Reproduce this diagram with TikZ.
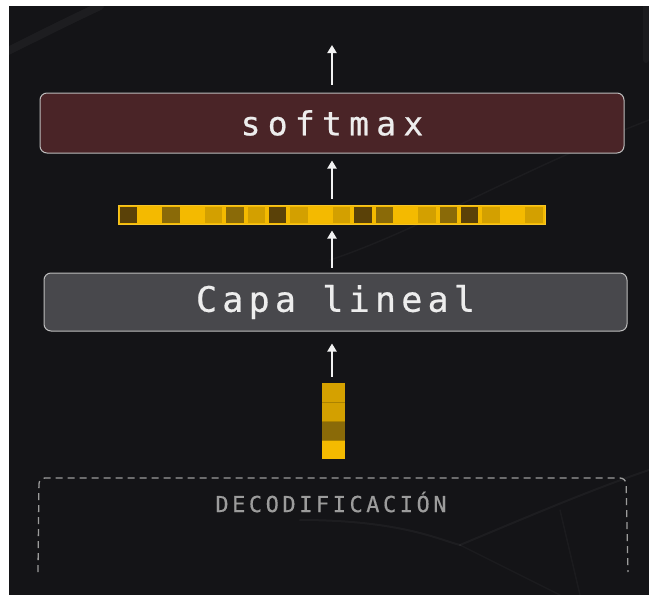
\documentclass[tikz,border=0pt]{standalone}
\usepackage{fontspec}
\usetikzlibrary{arrows.meta}
\newfontfamily\softfont{DejaVu Sans Mono}[LetterSpace=22, FakeBold=0.6]
\newfontfamily\capafont{DejaVu Sans Mono}[LetterSpace=15, FakeBold=0.6]
\newfontfamily\monolabel{DejaVu Sans Mono}[LetterSpace=16, FakeBold=0.4]
\definecolor{bgdark}{HTML}{141417}
\definecolor{softfill}{HTML}{4A2427}
\definecolor{capafill}{HTML}{48484C}
\definecolor{boxedge}{HTML}{BDBDBD}
\definecolor{gold}{HTML}{F4BA00}
\definecolor{goldmid}{HTML}{D3A000}
\definecolor{goldbrown}{HTML}{8A6A08}
\definecolor{golddark}{HTML}{5A4108}
\definecolor{labelgray}{HTML}{9C9C9C}
\tikzset{
  layerbox/.style={draw=boxedge, line width=1pt, rounded corners=7pt,
    minimum height=#1, inner sep=0pt, text=white!93!black},
  arr/.style={draw=white!95!black, line width=2.6pt,
    -{Triangle[width=9pt,length=8pt]}},
  streak/.style={white, line cap=round},
}
\begin{document}
\begin{tikzpicture}[x=1pt,y=-1pt]
  \useasboundingbox (0,0) rectangle (649,595);
  \fill[white] (0,0) rectangle (649,595);
  \fill[bgdark] (9,6) rectangle (649,595);

  % faint light streaks in the background
  \begin{scope}
    \clip (9,6) rectangle (649,595);
    \draw[streak, opacity=0.04, line width=8pt] (0,55) .. controls (40,35) and (70,20) .. (100,6);
    \draw[streak, opacity=0.03, line width=6pt] (646,6) -- (646,60);
    \draw[streak, opacity=0.035, line width=1.5pt] (330,260) .. controls (420,230) and (520,170) .. (649,120);
    \draw[streak, opacity=0.04, line width=2pt] (300,520) .. controls (400,520) and (440,540) .. (460,545);
    \draw[streak, opacity=0.04, line width=2pt] (460,545) .. controls (520,520) and (590,490) .. (649,470);
    \draw[streak, opacity=0.03, line width=1.5pt] (460,545) -- (560,595);
    \draw[streak, opacity=0.03, line width=1.5pt] (560,510) -- (580,595);
  \end{scope}

  % axis of the data flow
  \coordinate (ax) at (332,0);

  % output softmax layer
  \node[layerbox=60pt, fill=softfill, minimum width=584pt] (soft) at (332,123)
    {\fontsize{33}{40}\softfont softmax};
  \coordinate (out) at (332,45);

  % logits vector
  \node[draw=gold!85!white, line width=1pt, fill=gold, minimum width=427pt,
        minimum height=19pt, inner sep=0pt] (bar) at (331.5,214.5) {};
  \foreach \c [count=\i from 0] in {golddark,gold,goldbrown,gold,goldmid,goldbrown,goldmid,golddark,goldmid,gold,
                                     goldmid,golddark,goldbrown,gold,goldmid,goldbrown,golddark,goldmid,gold,goldmid}
    \fill[\c] ([xshift=\i*21.35pt+2pt, yshift=-2pt]bar.north west)
      rectangle ([xshift=\i*21.35pt+19.35pt, yshift=2pt]bar.south west);

  % linear layer
  \node[layerbox=58pt, fill=capafill, minimum width=583pt] (capa) at (335.5,302)
    {\fontsize{35}{42}\capafont Capa lineal};

  % decoder output vector
  \node[fill=gold, minimum width=23pt, minimum height=76pt, inner sep=0pt] (col) at (333.5,421) {};
  \fill[goldmid!95!gold] (col.north west) rectangle ([yshift=-19pt]col.north east);
  \fill[goldmid] ([yshift=-19pt]col.north west) rectangle ([yshift=-38pt]col.north east);
  \fill[goldbrown] ([yshift=-38pt]col.north west) rectangle ([yshift=-57pt]col.north east);
  \draw[gold!70!black, line width=0.5pt] ([yshift=-19pt]col.north west) -- ([yshift=-19pt]col.north east)
    ([yshift=-38pt]col.north west) -- ([yshift=-38pt]col.north east)
    ([yshift=-57pt]col.north west) -- ([yshift=-57pt]col.north east);

  % decoder block (open at the bottom)
  \node[text=labelgray] (dec) at (331,502) {\fontsize{22}{26}\monolabel DECODIFICACIÓN};
  \draw[labelgray, line width=1.3pt, dash pattern=on 7pt off 5pt, rounded corners=6pt]
    (38,572) -- (39,478) -- (626,478) -- (628,572);

  % data flow
  \draw[arr, shorten <=6pt, shorten >=12pt] (col.north -| ax) -- (capa.south -| ax);
  \draw[arr, shorten <=5pt, shorten >=6pt] (capa.north -| ax) -- (bar.south -| ax);
  \draw[arr, shorten <=6pt, shorten >=7pt] (bar.north -| ax) -- (soft.south -| ax);
  \draw[arr, shorten <=8pt] (soft.north -| ax) -- (out);
\end{tikzpicture}
\end{document}
